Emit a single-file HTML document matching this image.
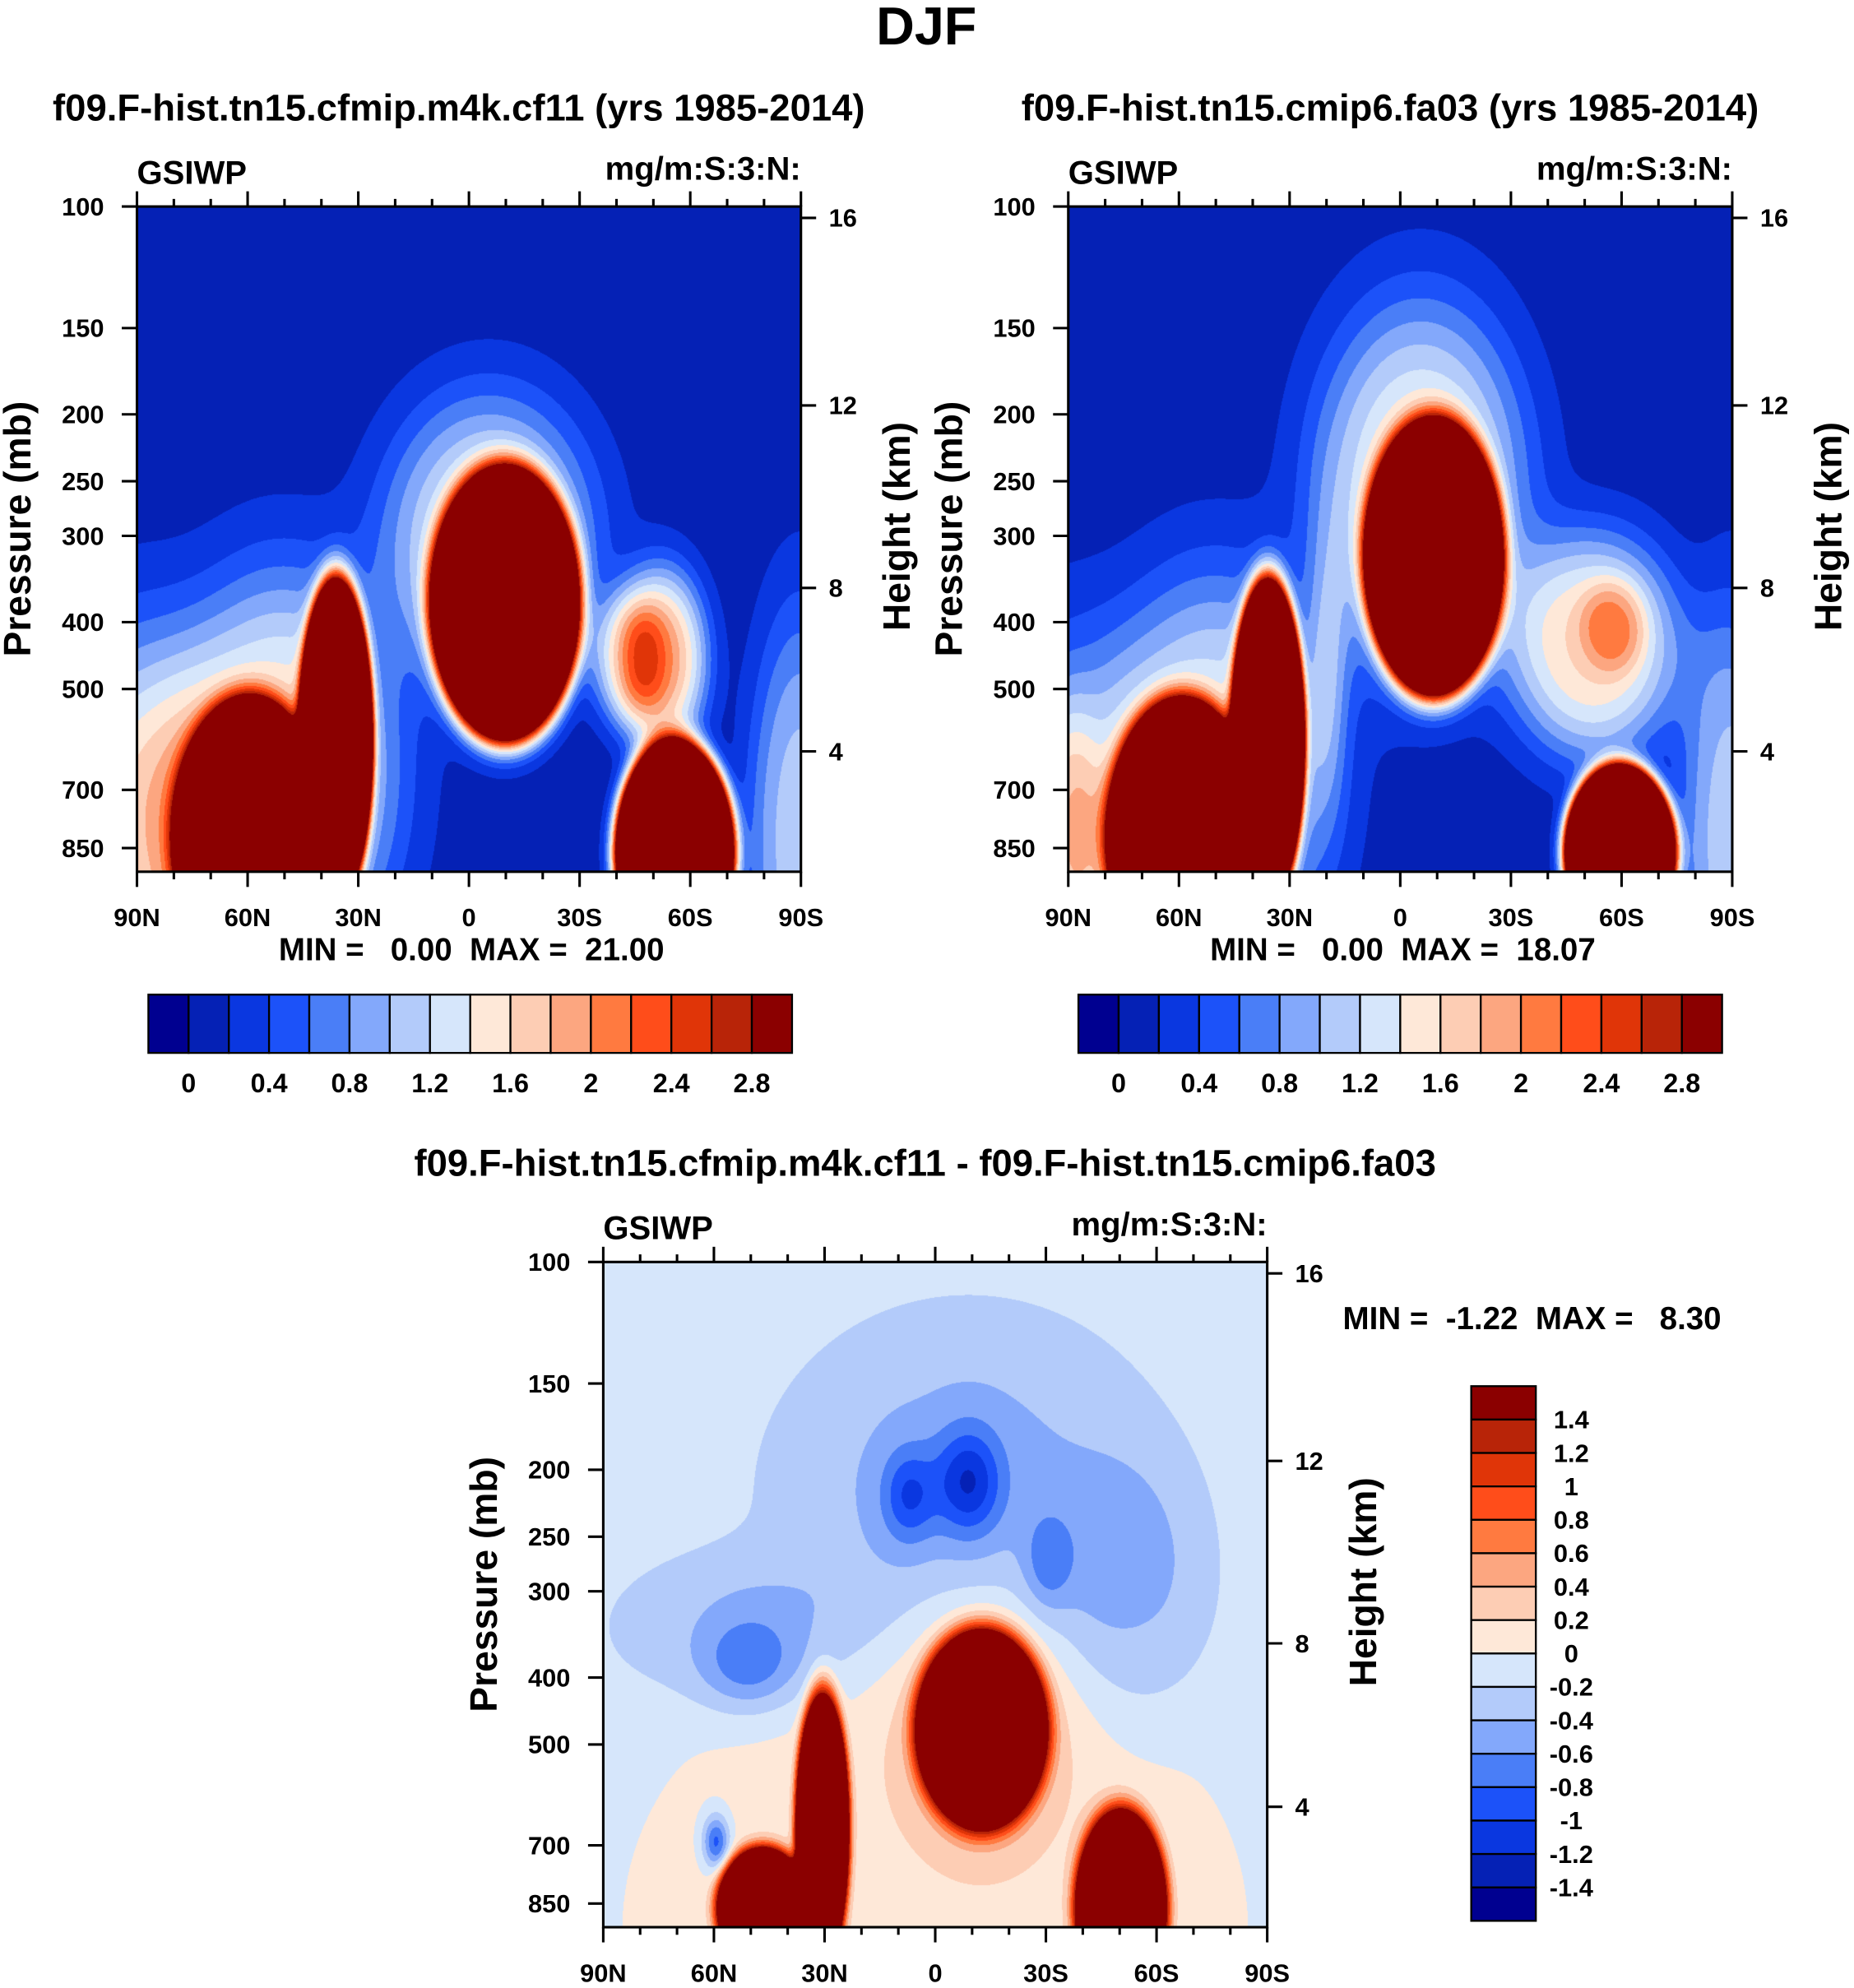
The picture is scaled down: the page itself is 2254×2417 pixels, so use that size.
<!DOCTYPE html>
<html><head><meta charset="utf-8"><style>
body{margin:0;background:#fff;width:2254px;height:2417px;overflow:hidden;position:relative;font-family:"Liberation Sans",sans-serif}
canvas{position:absolute}
svg{position:absolute;left:0;top:0}
text{font-family:"Liberation Sans",sans-serif;font-weight:bold;fill:#000;white-space:pre}
</style></head><body>
<canvas id="c0"></canvas>
<canvas id="c1"></canvas>
<canvas id="c2"></canvas>
<svg id="ov" width="2254" height="2417" viewBox="0 0 1463 1569"></svg>
<script>
const colors=["#000090","#0521b5","#0a37e0","#1c52f9","#4a7ef7","#83a8fb","#b3cbfa","#d6e6fb","#fee8d8","#fdcdb4","#fca680","#ff7a40","#ff4d1a","#e03508","#b82408","#8b0000"];
const levelsAbs=[0,0.2,0.4,0.6,0.8,1.0,1.2,1.4,1.6,1.8,2.0,2.2,2.4,2.6,2.8];
const levelsDiff=[-1.4,-1.2,-1,-0.8,-0.6,-0.4,-0.2,0,0.2,0.4,0.6,0.8,1,1.2,1.4];
const cbLabelsAbs=["0","0.4","0.8","1.2","1.6","2","2.4","2.8"];
const cbLabelsDiff=["1.4","1.2","1","0.8","0.6","0.4","0.2","0","-0.2","-0.4","-0.6","-0.8","-1","-1.2","-1.4"];
const latLabels=["90N","60N","30N","0","30S","60S","90S"];
const pressures=[100,150,200,250,300,400,500,700,850];
const heights=[16,12,8,4];
const heightPos=[9,157,301,430];
// blobs: [x, y, rx, ry, amp, k]  (fractions of panel)
const blobs1=[[0.3,0.8,0.045,0.2,20,2],[0.17,0.95,0.09,0.17,20,2],[0.22,0.85,0.17,0.3,1.5,1.5],
[0.555,0.6,0.092,0.17,20,2],[0.53,0.5,0.16,0.22,1.3,1.5],[0.79,0.68,0.07,0.14,1.7,1.5],[0.74,0.68,0.06,0.1,0.9,1.5],
[0.81,0.97,0.075,0.14,20,2],[0.0,1.0,0.15,0.35,1.5,1.5],[1.0,0.95,0.08,0.35,1.0,1.5]];
const blobs2=[[0.3,0.8,0.045,0.2,20,2],[0.17,0.95,0.09,0.17,20,2],[0.22,0.85,0.17,0.3,1.3,1.5],
[0.55,0.53,0.085,0.17,20,2],[0.53,0.42,0.16,0.28,1.4,1.5],[0.82,0.63,0.05,0.07,0.6,1.5],[0.79,0.66,0.13,0.17,1.5,1.5],
[0.83,0.97,0.07,0.11,20,2],[0.0,0.95,0.05,0.2,0.7,1.5],[0.0,1.0,0.15,0.35,0.9,1.5],[1.0,0.95,0.08,0.35,1.0,1.5],[0.39,0.7,0.03,0.2,0.6,1]];
const blobs3=[[0.57,0.7,0.085,0.13,8,2],[0.33,0.85,0.035,0.18,8,2],[0.24,0.97,0.06,0.08,8,2],[0.78,0.97,0.06,0.13,8,2],
[0.5,1.0,0.5,0.45,0.22,2],[0.57,0.68,0.12,0.18,0.6,1],
[0.55,0.35,0.3,0.28,-0.35,1.5],[0.2,0.55,0.2,0.12,-0.25,1.5],[0.8,0.5,0.12,0.2,-0.25,1.5],
[0.46,0.35,0.04,0.07,-0.6,1],[0.55,0.33,0.05,0.08,-0.8,1],[0.22,0.6,0.07,0.07,-0.5,1],[0.67,0.45,0.035,0.07,-0.4,1],[0.17,0.87,0.02,0.04,-0.9,1]];
const S=2254/1463;
const panels=[{x:108,y:163,b:blobs1,bg:0.1,lv:levelsAbs},{x:843,y:163,b:blobs2,bg:0.1,lv:levelsAbs},{x:476,y:996,b:blobs3,bg:-0.1,lv:levelsDiff}];
const W=524,H=525;
panels.forEach((p,i)=>{
 const c=document.getElementById('c'+i);
 const cw=Math.round(W*S),ch=Math.round(H*S);
 c.width=cw;c.height=ch;c.style.left=(p.x*S)+'px';c.style.top=(p.y*S)+'px';
 const ctx=c.getContext('2d');const img=ctx.createImageData(cw,ch);
 const rgb=colors.map(h=>[parseInt(h.slice(1,3),16),parseInt(h.slice(3,5),16),parseInt(h.slice(5,7),16)]);
 for(let y=0;y<ch;y++)for(let x=0;x<cw;x++){
  const fx=x/cw,fy=y/ch;let v=p.bg;
  for(const b of p.b){const dx=(fx-b[0])/b[2],dy=(fy-b[1])/b[3];const r=dx*dx+dy*dy;v+=b[4]*Math.exp(-Math.pow(r,b[5]));}
  let k=0;for(const l of p.lv){if(v>=l)k++;}
  const col=rgb[k];const o=(y*cw+x)*4;img.data[o]=col[0];img.data[o+1]=col[1];img.data[o+2]=col[2];img.data[o+3]=255;}
 ctx.putImageData(img,0,0);
});
const ov=document.getElementById('ov');const NS="http://www.w3.org/2000/svg";
function el(t,a,txt){const e=document.createElementNS(NS,t);for(const k in a)e.setAttribute(k,a[k]);if(txt!==undefined)e.textContent=txt;ov.appendChild(e);return e;}
function py(p){return 236.6*(Math.log(p)-Math.log(100));}
let t=el('text',{x:731,y:35,'font-size':42,'text-anchor':'middle'},'DJF');


const titles=["f09.F-hist.tn15.cfmip.m4k.cf11 (yrs 1985-2014)","f09.F-hist.tn15.cmip6.fa03 (yrs 1985-2014)","f09.F-hist.tn15.cfmip.m4k.cf11 - f09.F-hist.tn15.cmip6.fa03"];
const minmax=["MIN =   0.00  MAX =  21.00","MIN =   0.00  MAX =  18.07","MIN =  -1.22  MAX =   8.30"];
panels.forEach((p,i)=>{
 const x0=p.x,y0=p.y;
 t=el('text',{x:x0+W/2-8,y:y0-68,'font-size':29.5,'text-anchor':'middle'},titles[i]);
 
 
 t=el('text',{x:x0,y:y0-18,'font-size':26},'GSIWP');
 
 
 t=el('text',{x:x0+W,y:y0-21,'font-size':26,'text-anchor':'end'},'mg/m:S:3:N:');
 
 
 let r=el('rect',{x:x0,y:y0,width:W,height:H,fill:'none',stroke:'#000','stroke-width':2});
 
 
 for(let d=0;d<=18;d++){const xx=x0+d*W/18;const L=d%3==0?12:6;
  el('line',{x1:xx,y1:y0,x2:xx,y2:y0-L,stroke:'#000','stroke-width':2});
  el('line',{x1:xx,y1:y0+H,x2:xx,y2:y0+H+L,stroke:'#000','stroke-width':2});}
 latLabels.forEach((l,j)=>{t=el('text',{x:x0+j*W/6,y:y0+H+43,'font-size':20,'text-anchor':'middle'},l);
  
  });
 pressures.forEach(pp=>{const yy=y0+py(pp);el('line',{x1:x0,y1:yy,x2:x0-12,y2:yy,stroke:'#000','stroke-width':2});
  t=el('text',{x:x0-26,y:yy+7,'font-size':20,'text-anchor':'end'},pp);
  
  });
 heights.forEach((h,j)=>{const yy=y0+heightPos[j];el('line',{x1:x0+W,y1:yy,x2:x0+W+12,y2:yy,stroke:'#000','stroke-width':2});
  t=el('text',{x:x0+W+22,y:yy+7,'font-size':20},h);
  
  });
 t=el('text',{x:0,y:0,'font-size':30,'text-anchor':'middle',transform:`translate(${x0-84},${y0+H/2-8}) rotate(-90)`},'Pressure (mb)');
 
 
 t=el('text',{x:0,y:0,'font-size':30,'text-anchor':'middle',transform:`translate(${x0+W+86},${y0+H/2-10}) rotate(-90)`},'Height (km)');
 
 
 if(i<2){t=el('text',{x:x0+W/2+2,y:y0+H+70,'font-size':25,'text-anchor':'middle'},minmax[i]);}
 else{t=el('text',{x:1209,y:1049,'font-size':25,'text-anchor':'middle'},minmax[i]);}
 
 
});
// horizontal colorbars
[117,851].forEach(cx=>{const bw=508/16;
 colors.forEach((c,j)=>{const r=el('rect',{x:cx+j*bw,y:785,width:bw,height:46,fill:c,stroke:'#000','stroke-width':1.5});
  
  });
 cbLabelsAbs.forEach((l,j)=>{const lv=levelsAbs.indexOf(parseFloat(l));const tt=el('text',{x:cx+(lv+1)*bw,y:862,'font-size':21,'text-anchor':'middle'},l);
  
  });
});
// vertical colorbar
{const bx=1161,by=1094,bh=422/16;
 colors.slice().reverse().forEach((c,j)=>{const r=el('rect',{x:bx,y:by+j*bh,width:51,height:bh,fill:c,stroke:'#000','stroke-width':1.5});
  
  });
 cbLabelsDiff.forEach((l,j)=>{const tt=el('text',{x:1240,y:by+(j+1)*bh+7,'font-size':20,'text-anchor':'middle'},l);
  
  });
}
</script>
</body></html>
